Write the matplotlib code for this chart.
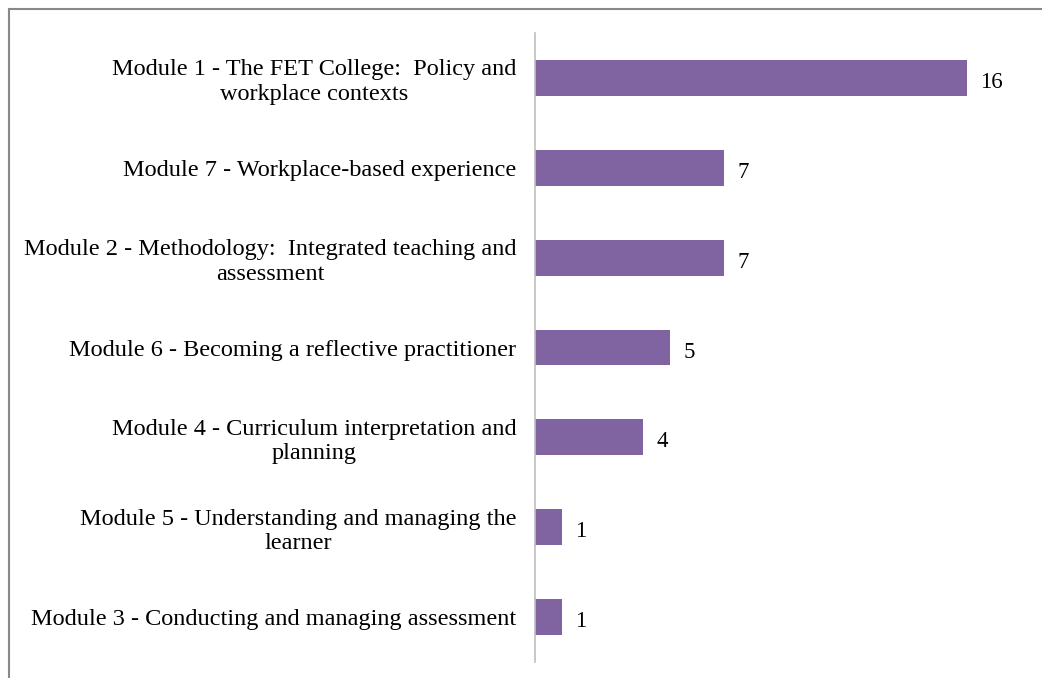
import matplotlib.pyplot as plt
from matplotlib.lines import Line2D

# module names (top to bottom) and counts
modules = [
    'Module 1 - The FET College:  Policy and\nworkplace contexts',
    'Module 7 - Workplace-based experience',
    'Module 2 - Methodology:  Integrated teaching and\nassessment',
    'Module 6 - Becoming a reflective practitioner',
    'Module 4 - Curriculum interpretation and\nplanning',
    'Module 5 - Understanding and managing the\nlearner',
    'Module 3 - Conducting and managing assessment',
]
counts = [16, 7, 7, 5, 4, 1, 1]

plt.rcParams['font.family'] = ['Liberation Serif', 'DejaVu Serif']

fig = plt.figure(figsize=(10.42, 6.78), dpi=100)
ax = fig.add_axes([0.5134, 0.0236, 0.466, 0.9277])

ypos = list(range(len(modules)))
ax.barh(ypos, counts, height=0.4, color='#8064A2')
ax.set_ylim(len(modules) - 0.5, -0.5)
ax.set_xlim(0, 18)
ax.set_yticks(ypos)
ax.set_yticklabels(modules, fontsize=17.5, linespacing=1.22)
for lbl in ax.get_yticklabels():
    lbl.set_multialignment('center')
ax.tick_params(axis='y', length=0, pad=13.5)
ax.set_xticks([])

for s in ['top', 'right', 'bottom']:
    ax.spines[s].set_visible(False)
ax.spines['left'].set_color('#BFBFBF')
ax.spines['left'].set_linewidth(1.2)

for y, v in zip(ypos, counts):
    ax.text(v + 0.5, y + 0.05, str(v), va='center', ha='left', fontsize=16.5)

# outer chart frame (top and left edges visible)
fig.add_artist(Line2D([9 / 1042, 1], [1 - 9 / 678, 1 - 9 / 678], color='#888888', lw=1.5))
fig.add_artist(Line2D([9 / 1042, 9 / 1042], [0, 1 - 9 / 678], color='#888888', lw=1.5))

fig.savefig('out.png', dpi=100)
